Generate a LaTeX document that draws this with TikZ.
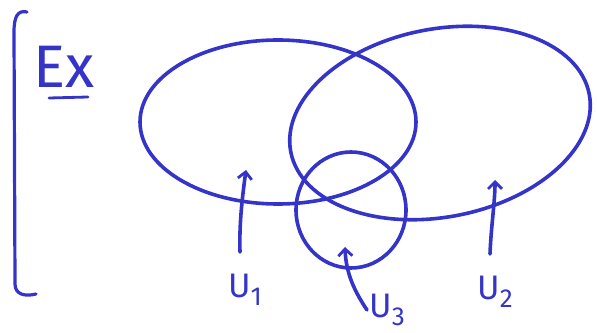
\documentclass[tikz,border=0pt]{standalone}
\usepackage{fontspec}
\setsansfont{Fira Sans}
\usetikzlibrary{arrows.meta}
\definecolor{ink}{RGB}{52,52,200}
\begin{document}
\begin{tikzpicture}[x=1pt,y=1pt,
  pen/.style={draw=ink,line width=3.6pt,line cap=round,line join=round},
  pointer/.style={pen,-{Straight Barb[length=7pt,width=14pt,line width=2.8pt]}},
  lbl/.style={text=ink,font=\sffamily\fontsize{34}{34}\selectfont,inner sep=0pt}]
\useasboundingbox (0,0) rectangle (597,332);
% bracket
\draw[pen,line width=3.2pt] (27,320) .. controls (18,322) and (14,316) .. (14,300)
  -- (15,48) .. controls (15,38) and (24,35) .. (36,38);
% Ex
\node[lbl,font=\sffamily\fontsize{60}{60}\selectfont,anchor=south west] (ex) at (33,244) {Ex};
\draw[pen,line width=2.8pt] (49,234) -- (88,235);
% sets
\draw[pen] (278,210) ellipse[x radius=138,y radius=82];
\draw[pen,rotate around={11:(440,209)}] (440,209) ellipse[x radius=152,y radius=94];
\draw[pen] (351,122) ellipse[x radius=55,y radius=58];
% labels
\node[lbl] (u1) at (245,42) {U\raisebox{-8pt}{\fontsize{26}{26}\selectfont 1}};
\node[lbl] (u3) at (387,22) {U\raisebox{-8pt}{\fontsize{26}{26}\selectfont 3}};
\node[lbl] (u2) at (495,40) {U\raisebox{-8pt}{\fontsize{26}{26}\selectfont 2}};
\coordinate (a1) at (246,162);
\coordinate (a2) at (495,152);
\coordinate (a3) at (345,85);
\draw[pointer] (240,80) .. controls (239,110) and (243,140) .. (a1);
\draw[pointer] (490,78) .. controls (491,105) and (495,130) .. (a2);
\draw[pointer] (367,22) .. controls (355,40) and (346,58) .. (a3);
\end{tikzpicture}
\end{document}
